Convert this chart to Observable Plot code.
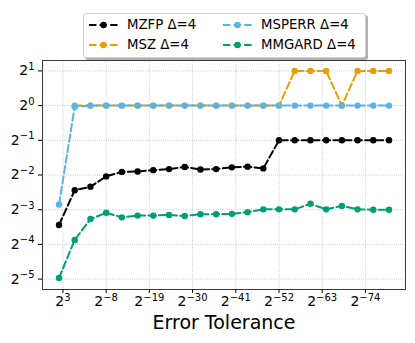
<!DOCTYPE html>
<html>
<head>
<meta charset="utf-8">
<script src="https://cdn.jsdelivr.net/npm/d3@7"></script>
<script src="https://cdn.jsdelivr.net/npm/@observablehq/plot@0.6"></script>
<style>
  body { margin: 0; background: white; }
  #wrap { position: relative; width: 415px; height: 343px; font-family: "DejaVu Sans", sans-serif; }
  #legend { position: absolute; left: 83px; top: 13px; width: 281px; height: 43px; background: white;
            border: 1px solid #d0d0d0; border-radius: 3px; box-shadow: 2px 2px 0 rgba(0,0,0,0.3); }
  .item { position: absolute; font-size: 13.3px; line-height: 14px; white-space: nowrap; }
  .item svg { position: absolute; left: 0; top: 0; }
  .item span { position: absolute; top: 0; }
</style>
</head>
<body>
<div id="wrap"></div>
<script>
// Error tolerance exponents (tolerance = 2^e)
const tolExp = [4, 0, -4, -8, -12, -16, -20, -24, -28, -32, -36, -40, -44, -48, -52, -56, -60, -64, -68, -72, -76, -80];
// log2 of the y values (NaN = no point)
const mzfp   = [-3.44, -2.44, -2.34, -2.04, -1.91, -1.90, -1.86, -1.83, -1.77, -1.84, -1.83, -1.78, -1.76, -1.81, -1, -1, -1, -1, -1, -1, -1, -1];
const msz    = [NaN, 0, 0, 0, 0, 0, 0, 0, 0, 0, 0, 0, 0, 0, 0, 1, 1, 1, 0, 1, 1, 1];
const msperr = [-2.85, -0.03, 0, 0, 0, 0, 0, 0, 0, 0, 0, 0, 0, 0, 0, 0, 0, 0, 0, 0, 0, 0];
const mmgard = [-4.97, -3.87, -3.27, -3.09, -3.22, -3.17, -3.17, -3.15, -3.18, -3.13, -3.13, -3.12, -3.07, -2.99, -2.99, -2.99, -2.83, -2.99, -2.89, -2.99, -3.0, -3.0];
const seriesNames = ["MZFP Δ=4", "MSZ Δ=4", "MSPERR Δ=4", "MMGARD Δ=4"];
const seriesColors = ["#000000", "#E69F00", "#56B4E9", "#009E73"];
const xTickExp = [3, -8, -19, -30, -41, -52, -63, -74];
const yTickExp = [-5, -4, -3, -2, -1, 0, 1];
const xLabel = "Error Tolerance";

const seriesValues = [mzfp, msz, msperr, mmgard];
const fmt = d => "2^" + String(Math.round(Math.log2(d))).replace("-", "\u2212");

const dash = "7.4,3.2";
const marks = [
  Plot.gridX(xTickExp.map(e => 2 ** e), {stroke: "#b0b0b0", strokeOpacity: 1, strokeWidth: 0.8, strokeDasharray: "0.8,1.4"}),
  Plot.gridY(yTickExp.map(e => 2 ** e), {stroke: "#b0b0b0", strokeOpacity: 1, strokeWidth: 0.8, strokeDasharray: "0.8,1.4"}),
];
seriesNames.forEach((name, k) => {
  const rows = tolExp.map((e, i) => ({x: 2 ** e, y: 2 ** seriesValues[k][i], s: name}));
  marks.push(Plot.line(rows, {x: "x", y: "y", stroke: seriesColors[k], strokeWidth: 2, strokeDasharray: dash}));
  marks.push(Plot.dot(rows, {x: "x", y: "y", fill: seriesColors[k], r: 3.2}));
});
marks.push(
  Plot.frame({stroke: "#3a3a3a", strokeWidth: 1}),
  Plot.axisX(xTickExp.map(e => 2 ** e), {tickFormat: fmt, tickSize: 4, tickPadding: 3, label: null, fontSize: 14}),
  Plot.axisY(yTickExp.map(e => 2 ** e), {tickFormat: fmt, tickSize: 4, tickPadding: 4, label: null, fontSize: 14}),
  Plot.text([xLabel], {frameAnchor: "bottom", lineAnchor: "middle", dy: 33, fontSize: 19, fill: "black"})
);

const chart = Plot.plot({
  width: 415, height: 343,
  marginLeft: 42, marginRight: 10, marginTop: 60, marginBottom: 54,
  style: {fontFamily: "DejaVu Sans", background: "white", color: "black", overflow: "visible"},
  x: {type: "log", base: 2, domain: [2 ** 8.2, 2 ** -84.2]},
  y: {type: "log", base: 2, domain: [2 ** -5.3, 2 ** 1.3]},
  marks
});

// render "2^e" tick labels as base + superscript
chart.querySelectorAll('g[aria-label$="tick label"] text').forEach(t => {
  const s = t.textContent;
  if (!s.includes("^")) return;
  const [b, e] = s.split("^");
  t.textContent = "";
  const ns = "http://www.w3.org/2000/svg";
  const t1 = document.createElementNS(ns, "tspan");
  t1.textContent = b;
  const t2 = document.createElementNS(ns, "tspan");
  t2.textContent = e;
  t2.setAttribute("font-size", "10");
  t2.setAttribute("dy", "-5.5");
  t.appendChild(t1);
  t.appendChild(t2);
});

const wrap = document.getElementById("wrap");
wrap.appendChild(chart);

// legend
const legend = document.createElement("div");
legend.id = "legend";
const pos = [[4, 4], [4, 24], [138, 4], [138, 24]];
const textOff = 39;
seriesNames.forEach((name, k) => {
  const item = document.createElement("div");
  item.className = "item";
  item.style.left = pos[k][0] + "px";
  item.style.top = pos[k][1] + "px";
  const c = seriesColors[k];
  item.innerHTML = `<svg width="32" height="14"><line x1="1" y1="7" x2="30" y2="7" stroke="${c}" stroke-width="2" stroke-dasharray="${dash}"/><circle cx="15.5" cy="7" r="3.2" fill="${c}"/></svg><span style="left:${textOff}px">${name}</span>`;
  legend.appendChild(item);
});
wrap.appendChild(legend);
</script>
</body>
</html>
